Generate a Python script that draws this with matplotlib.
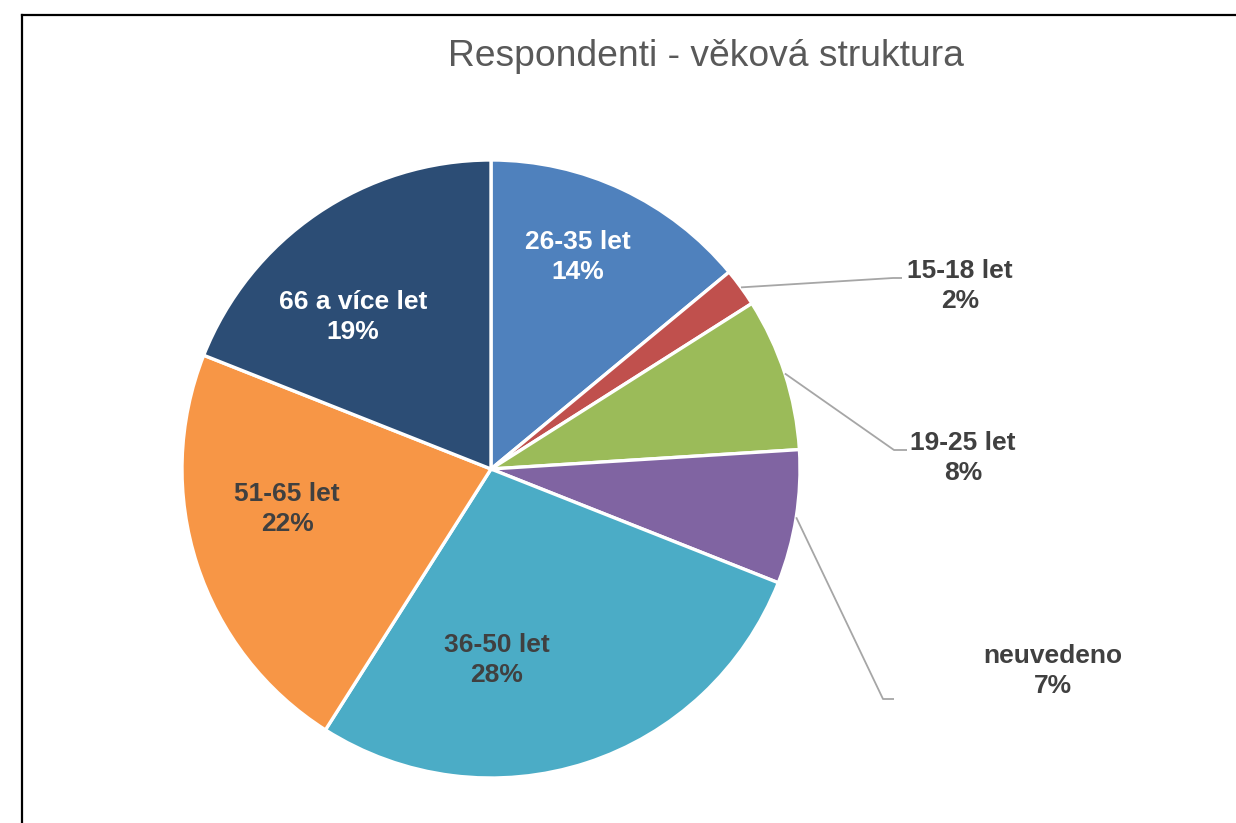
import matplotlib
matplotlib.use("Agg")
import matplotlib.pyplot as plt
import numpy as np

# ---- data ----
categories = ["26-35 let", "15-18 let", "19-25 let", "neuvedeno", "36-50 let", "51-65 let", "66 a více let"]
values = [14, 2, 8, 7, 28, 22, 19]
colors = ["#4F81BD", "#C0504D", "#9BBB59", "#8064A2", "#4BACC6", "#F79646", "#2C4D75"]
title = "Respondenti - věková struktura"

W, H = 1236, 823
plt.rcParams['font.family'] = ['Liberation Sans', 'DejaVu Sans']
fig = plt.figure(figsize=(W / 100, H / 100), dpi=100)
ax = fig.add_axes([0, 0, 1, 1])

cx, cy, R = 491, H - 469, 309
wedges, _ = ax.pie(values, colors=colors, startangle=90, counterclock=False,
                   center=(cx, cy), radius=R, frame=True,
                   wedgeprops=dict(edgecolor='white', linewidth=2.4))
ax.set_xlim(0, W)
ax.set_ylim(0, H)
ax.axis('off')

dark = "#404040"
total = sum(values)
pct = [f"{round(v / total * 100)}%" for v in values]

# inside labels (pixel positions, y from top)
inside = {0: (578, 257, 'white'), 6: (353, 317, 'white'),
          5: (287, 509, dark), 4: (497, 660, dark)}
for i, (x, y, c) in inside.items():
    ax.text(x, H - y, f"{categories[i]}\n{pct[i]}", ha='center', va='center',
            color=c, fontsize=19, fontweight='bold', linespacing=1.32)

# outside labels with leader lines
outside = {1: ((893, 278), (902, 278), (960, 286)),
           2: ((894, 450), (907, 450), (963, 458)),
           3: ((883, 699), (894, 699), (1053, 671))}
for i, (elbow, end, lab) in outside.items():
    w = wedges[i]
    mid = np.deg2rad((w.theta1 + w.theta2) / 2)
    sx, sy = cx + R * np.cos(mid), cy + R * np.sin(mid)
    ax.plot([sx, elbow[0], end[0]], [sy, H - elbow[1], H - end[1]],
            color='#A6A6A6', linewidth=1.3, solid_capstyle='butt')
    ax.text(lab[0], H - lab[1], f"{categories[i]}\n{pct[i]}", ha='center', va='center',
            color=dark, fontsize=19, fontweight='bold', linespacing=1.32)

# title
fig.text(706 / W, 1 - 56 / H, title, ha='center', va='center',
         color='#595959', fontsize=26.8)

# chart frame (top and left visible)
ax.plot([22, W], [H - 15, H - 15], color='black', linewidth=1.6, clip_on=False)
ax.plot([22, 22], [H - 15, 0], color='black', linewidth=1.6, clip_on=False)

fig.savefig("out.png", dpi=100)
